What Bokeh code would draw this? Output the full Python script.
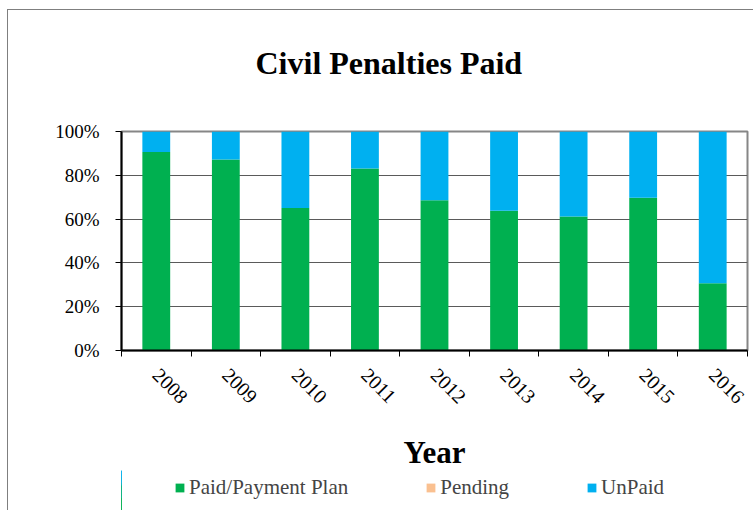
import math
from bokeh.plotting import figure
from bokeh.layouts import column
from bokeh.models import (FixedTicker, NumeralTickFormatter, Legend, LegendItem,
                          Range1d, ColumnDataSource, Label)
from bokeh.embed import file_html
from bokeh.resources import INLINE

years = ["2008", "2009", "2010", "2011", "2012", "2013", "2014", "2015", "2016"]
paid = [0.906, 0.872, 0.651, 0.831, 0.686, 0.638, 0.612, 0.697, 0.307]
pending = [0.0, 0.0, 0.0, 0.0, 0.0, 0.0, 0.0, 0.0, 0.0]
unpaid = [0.094, 0.128, 0.349, 0.169, 0.314, 0.362, 0.388, 0.303, 0.693]
series = ["Paid/Payment Plan", "Pending", "UnPaid"]
colors = ["#00B050", "#FAC090", "#00B0F0"]
y_ticks = [0, 0.2, 0.4, 0.6, 0.8, 1.0]
title_text = "Civil Penalties Paid"

FONT = "Liberation Serif"
FW = 626
ML, MR = 113, 6

xpos = [i + 0.5 for i in range(len(years))]
src = ColumnDataSource(dict(x=xpos, paid=paid, pending=pending, unpaid=unpaid))

# ---- title strip (page-pixel ranges) ----
TH = 109
tfig = figure(frame_width=FW, frame_height=TH, output_backend="svg", toolbar_location=None,
              x_axis_type=None, y_axis_type=None, title=None,
              min_border_left=ML, min_border_right=MR, min_border_top=0, min_border_bottom=0,
              x_range=Range1d(121, 121 + FW), y_range=Range1d(10 + TH, 10))
tfig.outline_line_color = None
tfig.add_layout(Label(x=255, y=62, text=title_text, text_font=FONT, text_font_size="32px",
                      text_font_style="bold", text_color="black",
                      text_align="left", text_baseline="alphabetic"))

# ---- main chart ----
p = figure(frame_width=FW, frame_height=219, output_backend="svg", toolbar_location=None,
           x_range=Range1d(0, len(years)), y_range=Range1d(0, 1), title=None,
           min_border_left=ML, min_border_right=MR, min_border_top=12,
           min_border_bottom=166)

p.vbar_stack(["paid", "pending", "unpaid"], x="x", width=0.4, source=src,
             color=colors, line_color=None)

p.outline_line_color = "#868686"
p.outline_line_width = 2
p.background_fill_color = "white"

p.yaxis.ticker = FixedTicker(ticks=y_ticks, minor_ticks=[])
p.yaxis.formatter = NumeralTickFormatter(format="0%")
p.yaxis.major_label_text_font = FONT
p.yaxis.major_label_text_font_size = "19px"
p.yaxis.major_label_text_color = "black"
p.yaxis.axis_line_color = "black"
p.yaxis.axis_line_width = 2
p.yaxis.major_tick_line_color = "black"
p.yaxis.major_tick_out = 6
p.yaxis.major_tick_in = 0
p.yaxis.major_label_standoff = 16

p.xaxis.ticker = FixedTicker(ticks=xpos, minor_ticks=list(range(len(years) + 1)))
p.xaxis.major_label_overrides = {x: y for x, y in zip(xpos, years)}
p.xaxis.major_label_orientation = -math.pi / 4
p.xaxis.major_label_text_font = FONT
p.xaxis.major_label_text_font_size = "20px"
p.xaxis.major_label_text_color = "black"
p.xaxis.major_tick_out = 0
p.xaxis.major_tick_in = 0
p.xaxis.minor_tick_out = 6
p.xaxis.minor_tick_in = 0
p.xaxis.minor_tick_line_color = "black"
p.xaxis.axis_line_color = "black"
p.xaxis.axis_line_width = 2
p.xaxis.major_label_standoff = 15
p.xaxis.axis_label = "Year"
p.xaxis.axis_label_text_font = FONT
p.xaxis.axis_label_text_font_size = "31px"
p.xaxis.axis_label_text_font_style = "bold"
p.xaxis.axis_label_text_color = "black"
p.xaxis.axis_label_standoff = 22

p.xgrid.grid_line_color = None
p.ygrid.grid_line_color = "#5a5a5a"
p.ygrid.grid_line_width = 1
p.ygrid.ticker = FixedTicker(ticks=y_ticks)

# ---- legend strip ----
lfig = figure(frame_width=FW, frame_height=40, output_backend="svg", toolbar_location=None,
              x_axis_type=None, y_axis_type=None, title=None,
              min_border_left=ML, min_border_right=MR, min_border_top=0, min_border_bottom=0,
              x_range=Range1d(100, 101), y_range=Range1d(0, 1),
              styles={"margin-top": "-46px"})
lfig.outline_line_color = None
lfig.background_fill_alpha = 0
lfig.border_fill_alpha = 0
lrs = lfig.vbar_stack(["paid", "pending", "unpaid"], x="x", width=0.4, source=src,
                      color=colors, line_color=None)
legend = Legend(items=[LegendItem(label=s, renderers=[r]) for s, r in zip(series, lrs)],
                orientation="horizontal", location=(53, 10),
                padding=0, margin=0, spacing=77, glyph_width=11, glyph_height=11,
                label_standoff=4, label_text_font=FONT, label_text_font_size="21px",
                border_line_alpha=0, background_fill_alpha=0)
lfig.add_layout(legend, "center")

layout = column(tfig, p, lfig, spacing=0,
                styles={"margin-left": "7px", "margin-top": "9px",
                        "border-left": "1px solid #7f7f7f", "border-top": "1px solid #7f7f7f"})

open("out.html", "w").write(file_html(layout, INLINE))
